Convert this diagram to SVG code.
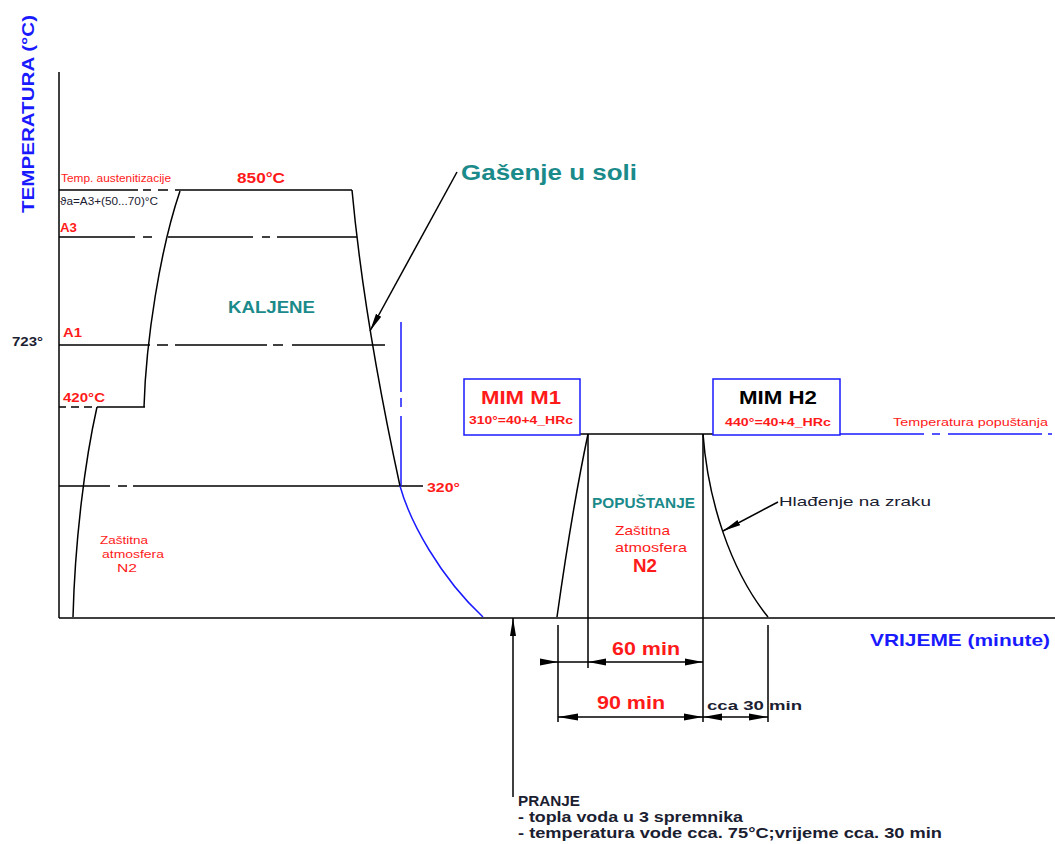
<svg xmlns="http://www.w3.org/2000/svg" width="1055" height="844" viewBox="0 0 1055 844">
<style>
text{font-family:"Liberation Sans","DejaVu Sans",sans-serif;font-weight:bold}
.n{font-weight:normal}
.ln{stroke:#000;stroke-width:1.5;fill:none}
.bl{stroke:#1a1aff;stroke-width:1.5;fill:none}
.red{fill:#ff1a1a}
.teal{fill:#1a8a8a}
.dk{fill:#1a2030}
.blue{fill:#1a1aff}
.ah{fill:#000}
</style>
<defs>
<marker id="arr" markerUnits="userSpaceOnUse" markerWidth="20" markerHeight="8" refX="18" refY="4" orient="auto-start-reverse">
<path d="M0,1 L18,4 L0,7 z" fill="#000"/>
</marker>
</defs>
<rect width="1055" height="844" fill="#fff"/>

<g id="axes">
<line class="ln" x1="59" y1="72" x2="59" y2="618"/>
<line class="ln" x1="59" y1="618" x2="1055" y2="618"/>
<text class="blue" font-size="17" transform="translate(34,213) rotate(-90)" textLength="198" lengthAdjust="spacingAndGlyphs">TEMPERATURA (°C)</text>
<text class="blue" x="870" y="646" font-size="17" textLength="180" lengthAdjust="spacingAndGlyphs">VRIJEME (minute)</text>
</g>

<g id="reference-lines">
<path class="ln" d="M59,190 H138 M143,190 H151 M158,190 H168 M175,190 H352"/>
<path class="ln" d="M59,237 H135 M143,237 H152 M168,237 H253 M262,237 H270 M277,237 H357"/>
<path class="ln" d="M59,345 H150 M157,345 H168 M175,345 H267 M273,345 H283 M292,345 H385"/>
<path class="ln" d="M59,407 H66 M71,407 H79 M84,407 H92 M97,407 H145"/>
<path class="ln" d="M59,486 H110 M118,486 H127 M133,486 H423"/>
<path class="bl" d="M401,322 V392 M401,398 V407 M401,416 V486"/>
<path class="bl" d="M840,434 H924 M932,434 H940 M948,434 H1042 M1048,434 H1052"/>
</g>

<g id="hardening-curves">
<path class="ln" d="M73,617 C75,540 85,460 97,407"/>
<path class="ln" d="M144,407 C146,340 160,250 180,191"/>
<path class="ln" d="M352,190 Q364,320 400,486"/>
<path class="bl" d="M400,486 C410,522 440,577 483,617"/>
</g>

<g id="tempering-curves">
<path class="ln" d="M557,617 Q572,510 588,434"/>
<line class="ln" x1="580" y1="434" x2="713" y2="434"/>
<path class="ln" d="M703,434 C708,500 730,570 768,617"/>
</g>

<g id="box-m1">
<rect x="464" y="379" width="116" height="56" fill="#fff" stroke="#1a1aff" stroke-width="1.5"/>
<text class="red" x="521" y="404" font-size="18" text-anchor="middle" textLength="80" lengthAdjust="spacingAndGlyphs">MIM M1</text>
<text class="red" x="521" y="424" font-size="11" text-anchor="middle" textLength="104" lengthAdjust="spacingAndGlyphs">310°=40+4_HRc</text>
</g>

<g id="box-h2">
<rect x="713" y="379" width="127" height="56" fill="#fff" stroke="#1a1aff" stroke-width="1.5"/>
<text x="778" y="404" font-size="18" text-anchor="middle" fill="#000" textLength="78" lengthAdjust="spacingAndGlyphs">MIM H2</text>
<text class="red" x="778" y="426" font-size="11" text-anchor="middle" textLength="106" lengthAdjust="spacingAndGlyphs">440°=40+4_HRc</text>
</g>

<g id="labels">
<text class="red n" x="61" y="182" font-size="10" textLength="110" lengthAdjust="spacingAndGlyphs">Temp. austenitizacije</text>
<text class="red" x="237" y="183" font-size="15" textLength="48" lengthAdjust="spacingAndGlyphs">850°C</text>
<text class="dk n" x="60" y="205" font-size="10" textLength="98" lengthAdjust="spacingAndGlyphs">ϑa=A3+(50...70)°C</text>
<text class="red" x="60" y="232" font-size="12" textLength="17" lengthAdjust="spacingAndGlyphs">A3</text>
<text class="teal" x="228" y="313" font-size="16" textLength="87" lengthAdjust="spacingAndGlyphs">KALJENE</text>
<text class="red" x="63" y="337" font-size="13" textLength="19" lengthAdjust="spacingAndGlyphs">A1</text>
<text class="dk" x="12" y="346" font-size="12" textLength="31" lengthAdjust="spacingAndGlyphs">723°</text>
<text class="red" x="63" y="402" font-size="13" textLength="42" lengthAdjust="spacingAndGlyphs">420°C</text>
<text class="red" x="427" y="492" font-size="13" textLength="33" lengthAdjust="spacingAndGlyphs">320°</text>
<text class="red n" x="100" y="544" font-size="11" textLength="48" lengthAdjust="spacingAndGlyphs">Zaštitna</text>
<text class="red n" x="102" y="558" font-size="11" textLength="62" lengthAdjust="spacingAndGlyphs">atmosfera</text>
<text class="red n" x="117" y="572" font-size="11" textLength="20" lengthAdjust="spacingAndGlyphs">N2</text>
<text class="teal" x="461" y="180" font-size="22" textLength="176" lengthAdjust="spacingAndGlyphs">Gašenje u soli</text>
<text class="teal" x="592" y="508" font-size="14" textLength="103" lengthAdjust="spacingAndGlyphs">POPUŠTANJE</text>
<text class="red n" x="615" y="535" font-size="13" textLength="55" lengthAdjust="spacingAndGlyphs">Zaštitna</text>
<text class="red n" x="615" y="552" font-size="13" textLength="72" lengthAdjust="spacingAndGlyphs">atmosfera</text>
<text class="red" x="633" y="572" font-size="19" textLength="24" lengthAdjust="spacingAndGlyphs">N2</text>
<text class="red n" x="893" y="426" font-size="11" textLength="155" lengthAdjust="spacingAndGlyphs">Temperatura popuštanja</text>
<text class="dk n" x="779" y="506" font-size="13" textLength="152" lengthAdjust="spacingAndGlyphs">Hlađenje na zraku</text>
<text class="red" x="612" y="655" font-size="18" textLength="68" lengthAdjust="spacingAndGlyphs">60 min</text>
<text class="red" x="597" y="709" font-size="18" textLength="68" lengthAdjust="spacingAndGlyphs">90 min</text>
<text class="dk" x="707" y="710" font-size="13" textLength="95" lengthAdjust="spacingAndGlyphs">cca 30 min</text>
<text class="dk" x="518" y="806" font-size="14" textLength="62" lengthAdjust="spacingAndGlyphs">PRANJE</text>
<text class="dk" x="518" y="822" font-size="14" textLength="225" lengthAdjust="spacingAndGlyphs">- topla voda u 3 spremnika</text>
<text class="dk" x="518" y="838" font-size="14" textLength="424" lengthAdjust="spacingAndGlyphs">- temperatura vode cca. 75°C;vrijeme cca. 30 min</text>
</g>

<g id="connectors">
<line class="ln" x1="457" y1="172" x2="370" y2="331" marker-end="url(#arr)" stroke-width="1.2"/>
<line class="ln" x1="778" y1="502" x2="723" y2="531" marker-end="url(#arr)" stroke-width="1.2"/>
<line class="ln" x1="513" y1="797" x2="513" y2="618" marker-end="url(#arr)"/>
<path class="ln" d="M558,625 V722 M588,434 V668 M703,434 V722 M768,625 V722"/>
<line class="ln" x1="540" y1="662" x2="703" y2="662"/>
<line class="ln" x1="558" y1="717" x2="768" y2="717"/>
<polygon class="ah" points="540,658.5 558,662 540,665.5"/>
<polygon class="ah" points="606,658.5 588,662 606,665.5"/>
<polygon class="ah" points="685,658.5 703,662 685,665.5"/>
<polygon class="ah" points="578,713.5 558,717 578,720.5"/>
<polygon class="ah" points="684,713.5 703,717 684,720.5"/>
<polygon class="ah" points="722,713.5 703,717 722,720.5"/>
<polygon class="ah" points="749,713.5 768,717 749,720.5"/>
</g>
</svg>
